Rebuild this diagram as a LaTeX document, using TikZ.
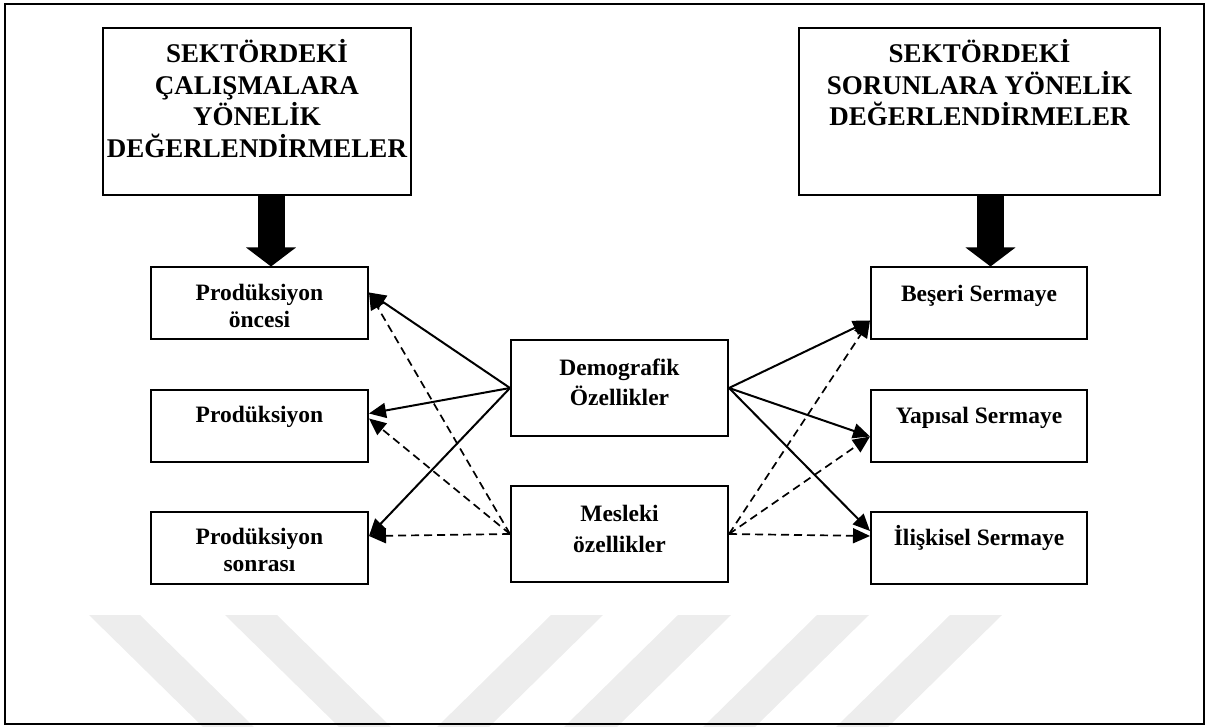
\documentclass[tikz,border=0pt]{standalone}
\usepackage{fontspec}
\setmainfont{Liberation Serif}
\usetikzlibrary{arrows.meta,positioning}
\tikzset
{
    bigbox/.style = {rectangle, draw=black, line width=2pt, minimum height=167pt, inner sep=0pt},
    box/.style = {rectangle, draw=black, line width=2pt, minimum width=217pt, minimum height=72pt, inner sep=0pt},
    midbox/.style = {box, minimum height=96pt},
    bigtext/.style = {align=center, anchor=base, inner sep=0pt, font=\fontsize{27}{31.5}\selectfont\bfseries},
    boxtext/.style = {align=center, anchor=base, inner sep=0pt, font=\fontsize{23.5}{27}\selectfont\bfseries},
    midtext/.style = {boxtext, font=\fontsize{23.5}{31}\selectfont\bfseries},
    bigarrow/.style = {line width=27pt, -{Triangle[length=19pt, width=49pt]}},
    arrow/.style = {line width=2pt, -{Triangle[length=17pt, width=15pt]}},
    dasharrow/.style = {arrow, line width=1.7pt, dash pattern=on 8pt off 5pt},
    wmstripe/.style = {fill=black!7, draw=none}
}

\begin{document}
\begin{tikzpicture}[x=1pt, y=-1pt]
	\useasboundingbox (0,0) rectangle (1208,727);
	\fill [wmstripe] (89,615) -- (140,615) -- (254,727) -- (203,727) -- cycle;
	\fill [wmstripe] (225,615) -- (277,615) -- (391,727) -- (339,727) -- cycle;
	\fill [wmstripe] (551,615) -- (603,615) -- (489,727) -- (437,727) -- cycle;
	\fill [wmstripe] (678,615) -- (731,615) -- (617,727) -- (564,727) -- cycle;
	\fill [wmstripe] (817,615) -- (869,615) -- (755,727) -- (703,727) -- cycle;
	\fill [wmstripe] (950,615) -- (1002,615) -- (888,727) -- (836,727) -- cycle;
	\draw [line width=2pt] (5,4) rectangle (1204,724);

	\node (topL) [bigbox, minimum width=308pt] at (257,111.5) {};
	\node (topR) [bigbox, minimum width=361pt] at (979.5,111.5) {};
	\node (pre) [box] at (259.5,303.5) {};
	\node (prod) [box, below=48pt of pre] {};
	\node (post) [box, below=48pt of prod] {};
	\node (dem) [midbox] at (619.5,388) {};
	\node (mes) [midbox, below=48pt of dem] {};
	\node (bes) [box, minimum width=216pt] at (979,303.5) {};
	\node (yap) [box, minimum width=216pt, below=48pt of bes] {};
	\node (ilis) [box, minimum width=216pt, below=48pt of yap] {};

	\node (topLT) [bigtext] at ([yshift=-130.5pt]topL.north) {SEKTÖRDEKİ\\ÇALIŞMALARA\\YÖNELİK\\DEĞERLENDİRMELER};
	\node (topRT) [bigtext] at ([yshift=-99pt]topR.north) {SEKTÖRDEKİ\\SORUNLARA YÖNELİK\\DEĞERLENDİRMELER};
	\node (preT) [boxtext] at ([yshift=-61pt]pre.north) {Prodüksiyon\\öncesi};
	\node (prodT) [boxtext] at ([yshift=-34pt]prod.north) {Prodüksiyon};
	\node (postT) [boxtext] at ([yshift=-61pt]post.north) {Prodüksiyon\\sonrası};
	\node (demT) [midtext] at ([yshift=-67pt]dem.north) {Demografik\\Özellikler};
	\node (mesT) [midtext] at ([yshift=-67pt]mes.north) {Mesleki\\özellikler};
	\node (besT) [boxtext] at ([yshift=-35pt]bes.north) {Beşeri Sermaye};
	\node (yapT) [boxtext] at ([yshift=-35pt]yap.north) {Yapısal Sermaye};
	\node (ilisT) [boxtext] at ([yshift=-35pt]ilis.north) {İlişkisel Sermaye};

	\draw [bigarrow] ([xshift=14pt]topL.south) -- ([xshift=11.5pt]pre.north);
	\draw [bigarrow] ([xshift=11pt]topR.south) -- ([xshift=11.5pt]bes.north);

	\draw [arrow] (dem.west) -- ([yshift=11pt]pre.east);
	\draw [arrow] (dem.west) -- ([yshift=12pt]prod.east);
	\draw [arrow] (dem.west) -- ([yshift=11.5pt]post.east);
	\draw [arrow] (dem.east) -- ([yshift=-17pt]bes.west);
	\draw [arrow] (dem.east) -- ([yshift=-11pt]yap.west);
	\draw [arrow] (dem.east) -- ([yshift=16.5pt]ilis.west);

	\draw [dasharrow] (mes.west) -- ([yshift=11pt]pre.east);
	\draw [dasharrow] (mes.west) -- ([yshift=7pt]prod.east);
	\draw [dasharrow] (mes.west) -- ([yshift=11.5pt]post.east);
	\draw [dasharrow] (mes.east) -- ([yshift=-17pt]bes.west);
	\draw [dasharrow] (mes.east) -- ([yshift=-11pt]yap.west);
	\draw [dasharrow] (mes.east) -- ([yshift=11.5pt]ilis.west);
\end{tikzpicture}
\end{document}
